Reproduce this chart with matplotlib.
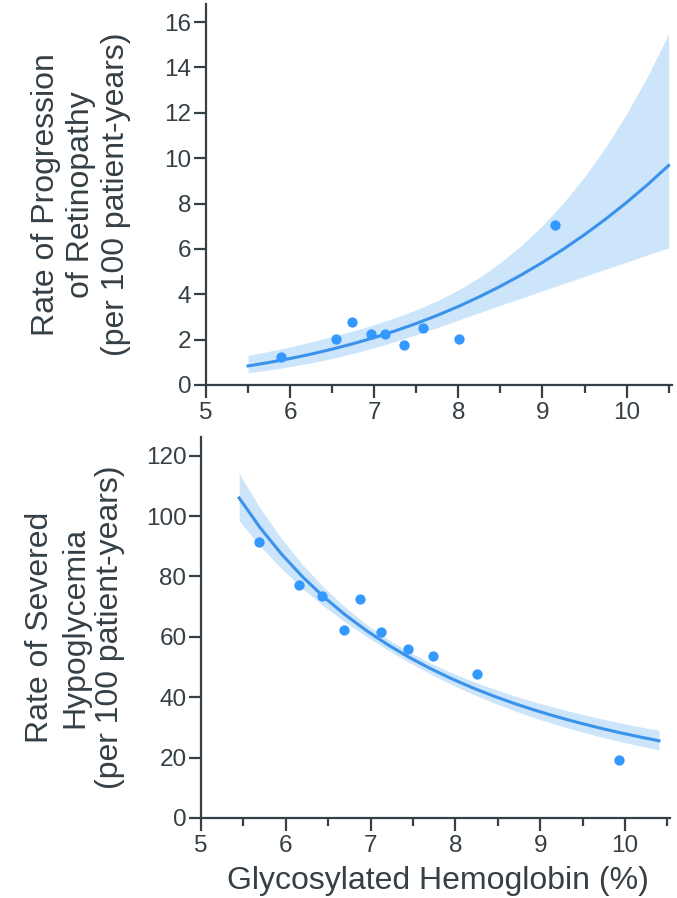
import matplotlib
matplotlib.use('Agg')
import matplotlib.pyplot as plt

plt.rcParams['font.family'] = ['Liberation Sans', 'DejaVu Sans']

ink = '#353f46'
dot_color = '#3399ff'
line_color = '#3a92ea'
band_color = '#cce5fb'

# retinopathy (top)
retino_x = [5.89, 6.54, 6.74, 6.96, 7.13, 7.35, 7.58, 8.01, 9.15]
retino_y = [1.25, 2.03, 2.79, 2.26, 2.26, 1.76, 2.53, 2.03, 7.04]
retino_fit_x = [5.5, 5.75, 6.0, 6.25, 6.5, 6.75, 7.0, 7.25, 7.5, 7.75, 8.0,
                8.25, 8.5, 8.75, 9.0, 9.25, 9.5, 9.75, 10.0, 10.25, 10.5]
retino_fit = [0.84, 0.994, 1.167, 1.362, 1.580, 1.822, 2.090, 2.387, 2.713, 3.071, 3.463,
              3.890, 4.354, 4.858, 5.404, 5.994, 6.630, 7.314, 8.049, 8.837, 9.680]
retino_hi = [1.304, 1.487, 1.684, 1.899, 2.131, 2.384, 2.660, 2.969, 3.317, 3.720, 4.191,
             4.745, 5.395, 6.153, 7.029, 8.034, 9.182, 10.482, 11.955, 13.616, 15.484]
retino_lo = [0.541, 0.664, 0.809, 0.977, 1.171, 1.393, 1.642, 1.919, 2.219, 2.536, 2.862,
             3.189, 3.514, 3.835, 4.155, 4.472, 4.787, 5.103, 5.419, 5.735, 6.052]

# hypoglycemia (bottom)
hypo_x = [5.68, 6.16, 6.43, 6.69, 6.88, 7.12, 7.44, 7.74, 8.26, 9.93]
hypo_y = [91.3, 77.1, 73.6, 62.4, 72.6, 61.5, 55.9, 53.7, 47.8, 19.1]
hypo_fit_x = [5.45, 5.70, 5.95, 6.20, 6.45, 6.70, 6.95, 7.20, 7.45, 7.70, 7.95,
              8.20, 8.45, 8.70, 8.95, 9.20, 9.45, 9.70, 9.95, 10.20, 10.40]
hypo_fit = [106.0, 96.04, 87.39, 79.82, 73.17, 67.30, 62.09, 57.44, 53.29, 49.56, 46.19,
            43.15, 40.39, 37.88, 35.59, 33.50, 31.58, 29.82, 28.19, 26.70, 25.58]
hypo_hi = [114.11, 102.50, 92.51, 83.84, 76.32, 69.80, 64.14, 59.25, 55.05, 51.40, 48.18,
           45.32, 42.76, 40.43, 38.31, 36.38, 34.60, 32.97, 31.45, 30.07, 29.02]
hypo_lo = [98.47, 89.98, 82.56, 75.99, 70.15, 64.90, 60.11, 55.69, 51.59, 47.79, 44.28,
           41.08, 38.16, 35.49, 33.06, 30.85, 28.82, 26.97, 25.26, 23.71, 22.55]

x_ticks = [5, 6, 7, 8, 9, 10]
x_minor = [5.5, 6.5, 7.5, 8.5, 9.5, 10.5]
retino_ticks = [0, 2, 4, 6, 8, 10, 12, 14, 16]
hypo_ticks = [0, 20, 40, 60, 80, 100, 120]

W, H = 677, 898
fig = plt.figure(figsize=(W / 100, H / 100), dpi=100)
ax1 = fig.add_axes([206 / W, 1 - 385 / H, 466 / W, 381 / H])
ax2 = fig.add_axes([201 / W, 1 - 818 / H, 469 / W, 381 / H])


def style(ax, yticks, ylim_top, xlim_right):
    ax.set_xlim(5, xlim_right)
    ax.set_ylim(0, ylim_top)
    ax.set_xticks(x_ticks)
    ax.set_xticks(x_minor, minor=True)
    ax.set_yticks(yticks)
    for s in ['top', 'right']:
        ax.spines[s].set_visible(False)
    for s in ['left', 'bottom']:
        ax.spines[s].set_color(ink)
        ax.spines[s].set_linewidth(1.6)
    ax.tick_params(which='major', length=9, width=1.6, color=ink, labelcolor=ink, labelsize=17.5)
    ax.tick_params(axis='y', pad=1.5)
    ax.tick_params(axis='x', pad=3)
    ax.tick_params(which='minor', axis='x', length=5.5, width=1.6, color=ink)
    ax.patch.set_alpha(0)


ax1.fill_between(retino_fit_x, retino_lo, retino_hi, color=band_color, lw=0, zorder=1)
ax1.plot(retino_fit_x, retino_fit, color=line_color, lw=2.2, zorder=2)
ax1.scatter(retino_x, retino_y, s=55, color=dot_color, lw=0, zorder=3)
style(ax1, retino_ticks, 16.8, 10.54)

ax2.fill_between(hypo_fit_x, hypo_lo, hypo_hi, color=band_color, lw=0, zorder=1)
ax2.plot(hypo_fit_x, hypo_fit, color=line_color, lw=2.2, zorder=2)
ax2.scatter(hypo_x, hypo_y, s=55, color=dot_color, lw=0, zorder=3)
style(ax2, hypo_ticks, 126.2, 10.53)

fig.text(81 / W, 1 - 194.5 / H, 'Rate of Progression\nof Retinopathy\n(per 100 patient-years)',
         rotation=90, ha='center', va='center', multialignment='center', fontsize=23, color=ink)
fig.text(75 / W, 1 - 627.5 / H, 'Rate of Severed\nHypoglycemia\n(per 100 patient-years)',
         rotation=90, ha='center', va='center', multialignment='center', fontsize=23, color=ink)
fig.text(438 / W, 1 - 889 / H, 'Glycosylated Hemoglobin (%)',
         ha='center', va='baseline', fontsize=23, color=ink)

fig.savefig('out.png', dpi=100, facecolor='white')
